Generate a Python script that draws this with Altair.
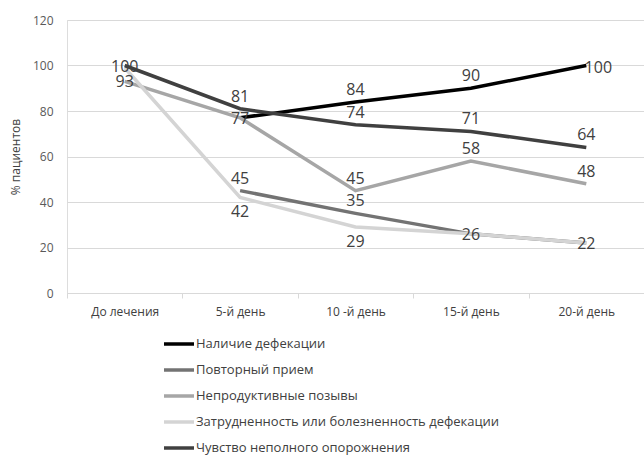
import altair as alt
import pandas as pd

days = ["До лечения", "5-й день", "10 -й день", "15-й день", "20-й день"]
series = [
    "Наличие дефекации",
    "Повторный прием",
    "Непродуктивные позывы",
    "Затрудненность или болезненность дефекации",
    "Чувство неполного опорожнения",
]
colors = ["#000000", "#737373", "#a6a6a6", "#d4d4d4", "#404040"]

v_nalichie = [None, 77, 84, 90, 100]
v_povtor = [None, 45, 35, 26, 22]
v_neprod = [93, 77, 45, 58, 48]
v_zatrud = [99, 42, 29, 26, 22]
v_chuvstvo = [100, 81, 74, 71, 64]

# label placement per point (style only); None = label hidden behind an identical one
p_nalichie = [None, None, "above", "above", "right"]
p_povtor = [None, "above", "above", "center", "center"]
p_neprod = ["center", "center", "above", "above", "above"]
p_zatrud = [None, "below", "below", None, None]
p_chuvstvo = ["center", "above", "above", "above", "above"]

values = [v_nalichie, v_povtor, v_neprod, v_zatrud, v_chuvstvo]
places = [p_nalichie, p_povtor, p_neprod, p_zatrud, p_chuvstvo]

rows = []
for si, (s, vals, pl) in enumerate(zip(series, values, places)):
    for d, v, p in zip(days, vals, pl):
        if v is not None:
            rows.append({"day": d, "series": s, "value": v, "place": p or "none", "order": si})
df = pd.DataFrame(rows)

FONT = "Open Sans"

x = alt.X("day:N", sort=days, title=None,
          scale=alt.Scale(type="band", domain=days, paddingInner=0, paddingOuter=0),
          axis=alt.Axis(labelAngle=0, tickBand="extent", domainColor="#d9d9d9",
                        tickColor="#d9d9d9", tickSize=5, labelColor="#404040",
                        labelFontSize=12, labelFont=FONT, labelPadding=8, grid=False))
y = alt.Y("value:Q", title="% пациентов",
          scale=alt.Scale(domain=[0, 120], nice=False),
          axis=alt.Axis(values=[0, 20, 40, 60, 80, 100, 120], domain=False, ticks=False,
                        gridColor="#d9d9d9", labelColor="#595959", labelFontSize=12,
                        labelFont=FONT, labelPadding=14, titleFont=FONT, titleFontSize=12,
                        titleFontWeight="normal", titleColor="#404040", titlePadding=10))

color = alt.Color("series:N", sort=series,
                  scale=alt.Scale(domain=series, range=colors),
                  legend=alt.Legend(title=None, orient="none", legendX=95, legendY=307,
                                    direction="vertical", symbolType="stroke",
                                    symbolStrokeWidth=3.5, symbolSize=900,
                                    labelFont=FONT, labelFontSize=13, labelColor="#404040",
                                    labelLimit=500, rowPadding=2, labelOffset=0,
                                    symbolOffset=0))

base = alt.Chart(df)
lines = base.mark_line(strokeWidth=3.5).encode(
    x=x, y=y, color=color, detail="series:N", order="order:Q"
)

def labels(place, dy, dx=0):
    return base.transform_filter(alt.datum.place == place).mark_text(
        dy=dy, dx=dx, font=FONT, fontSize=16, color="#404040"
    ).encode(x=alt.X("day:N", sort=days), y="value:Q", text="value:Q")

chart = alt.layer(
    lines,
    labels("above", -12),
    labels("below", 15),
    labels("center", 1),
    labels("right", 2, 12),
).properties(
    width=577, height=273,
    autosize=alt.AutoSizeParams(type="none"),
    padding={"left": 67, "top": 20, "right": 0, "bottom": 164},
).configure_view(stroke=None).configure(background="white")

chart.save("out.html", embed_options={"renderer": "svg", "actions": False})
